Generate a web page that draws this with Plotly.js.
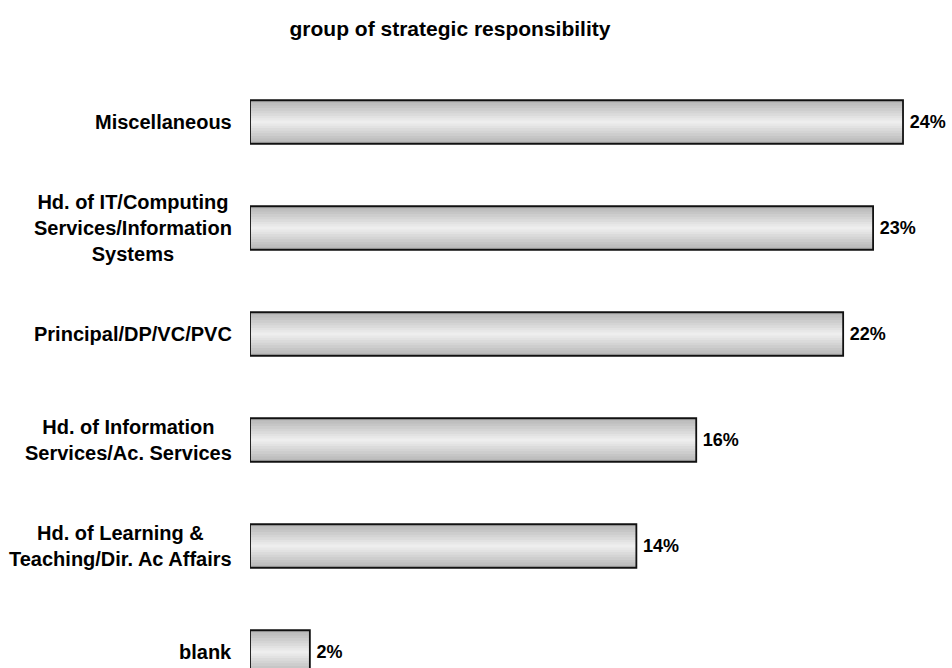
<!DOCTYPE html>
<html>
<head>
<meta charset="utf-8">
<script src="https://cdn.plot.ly/plotly-3.0.1.min.js"></script>
<style>html,body{margin:0;padding:0;background:#fff;}#chart{width:952px;height:668px;}</style>
</head>
<body>
<div id="chart"></div>
<script>
// Data (top to bottom)
const categories = [
  "Miscellaneous",
  "Hd. of IT/Computing<br>Services/Information<br>Systems",
  "Principal/DP/VC/PVC",
  "Hd. of Information<br>Services/Ac. Services",
  "Hd. of Learning &<br>Teaching/Dir. Ac Affairs",
  "blank"
];
const values = [24.0, 22.9, 21.8, 16.4, 14.2, 2.2];
const valueLabels = ["24%", "23%", "22%", "16%", "14%", "2%"];

const FONT = "Liberation Sans, Arial, sans-serif";
const barWidth = 0.41;
// gradient layers: [fraction of width, colour]
const layers = [
  [1.00, "#b8b8b8"],
  [0.88, "#bfbfbf"],
  [0.76, "#c6c6c6"],
  [0.64, "#cdcdcd"],
  [0.52, "#d4d4d4"],
  [0.40, "#dbdbdb"],
  [0.28, "#e2e2e2"],
  [0.17, "#e8e8e8"],
  [0.07, "#eeeeee"]
];

const traces = layers.map(([f, c]) => ({
  type: "bar",
  orientation: "h",
  y: categories,
  x: values,
  width: categories.map(() => barWidth * f),
  marker: {color: c, line: {width: 0}},
  hoverinfo: "skip",
  showlegend: false
}));
traces.push({
  type: "bar",
  orientation: "h",
  y: categories,
  x: values,
  width: categories.map(() => barWidth),
  marker: {color: "rgba(0,0,0,0)", line: {color: "#111", width: 1.8}},
  text: valueLabels,
  texttemplate: "\u2009%{text}",
  textposition: "outside",
  cliponaxis: false,
  constraintext: "none",
  textfont: {family: FONT, size: 18, color: "#000", weight: "bold"},
  hoverinfo: "skip",
  showlegend: false
});

const annotations = categories.map(c => ({
  xref: "paper", yref: "y", x: 0, y: c,
  xanchor: "right", yanchor: "middle", xshift: -16,
  text: "<b>" + c + "</b>", showarrow: false, align: "center",
  font: {family: FONT, size: 20, color: "#000"}
}));

const layout = {
  width: 952, height: 668,
  margin: {l: 250, r: 0, t: 69, b: 0},
  paper_bgcolor: "#fff", plot_bgcolor: "rgba(0,0,0,0)",
  barmode: "overlay",
  title: {text: "<b>group of strategic responsibility</b>", font: {family: FONT, size: 21, color: "#000"},
          x: 450/952, xanchor: "center", xref: "container", y: 1 - 29/668, yref: "container", yanchor: "middle"},
  xaxis: {visible: false, range: [0, 25.8], fixedrange: true},
  yaxis: {type: "category", categoryorder: "array", categoryarray: categories,
          range: [5.151, -0.5], showticklabels: false, showgrid: false, zeroline: false,
          showline: false, ticks: "", fixedrange: true},
  annotations: annotations
};

Plotly.newPlot("chart", traces, layout, {displayModeBar: false, staticPlot: true});
</script>
</body>
</html>
